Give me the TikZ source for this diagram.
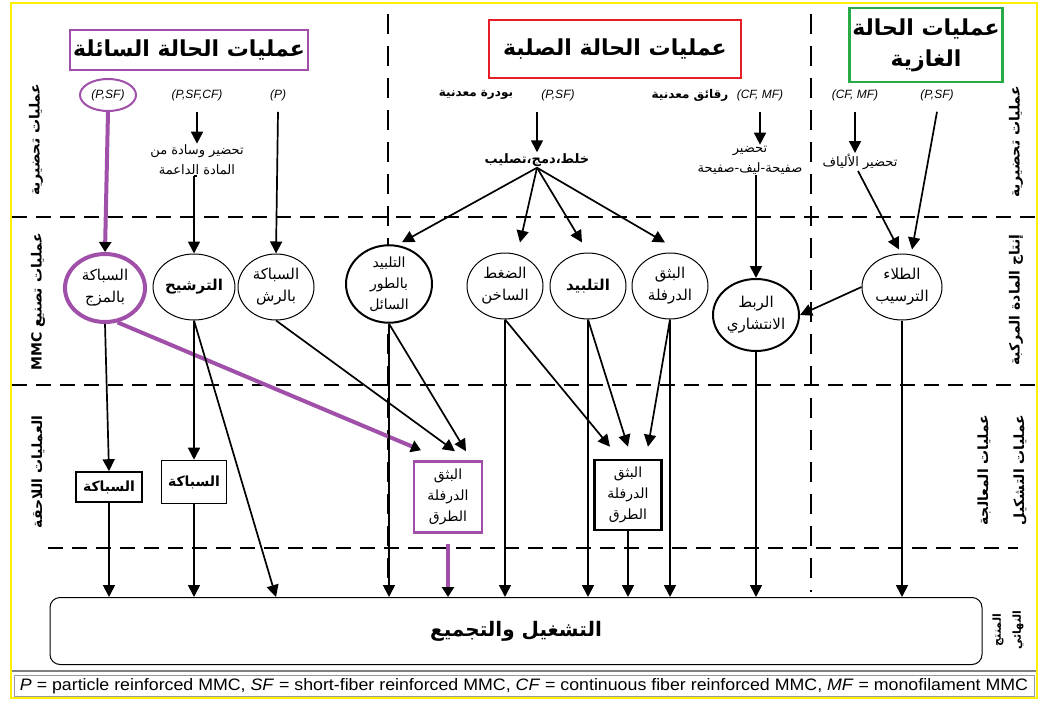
\documentclass[tikz,border=0pt]{standalone}
\usepackage{fontspec}
\usepackage{graphicx}
\setmainfont{Liberation Sans}
\newfontfamily\arabicfont[Script=Arabic]{DejaVu Sans}
\TeXXeTstate=1
\usetikzlibrary{shapes.geometric,arrows.meta}
\newcommand{\ara}[1]{{\arabicfont\beginR #1\endR}}
\definecolor{purpC}{RGB}{160,80,168}
\definecolor{redC}{RGB}{230,30,40}
\definecolor{greenC}{RGB}{40,170,70}
\definecolor{yelC}{RGB}{255,240,0}
\tikzset{
  sepline/.style={line width=1.5pt, dash pattern=on 15pt off 9pt},
  sepvert/.style={line width=1.5pt, dash pattern=on 20pt off 12pt},
  proc/.style={ellipse, draw, fill=white, line width=1pt, minimum width=76pt, minimum height=66pt, inner sep=0pt, align=center, font=\arabicfont\fontsize{15}{22}\selectfont},
  thickproc/.style={proc, line width=2pt},
  postbox/.style={draw, fill=white, line width=1.6pt, align=center, inner sep=0pt, font=\arabicfont\fontsize{14}{21}\selectfont},
  arr/.style={line width=1.7pt, -{Triangle[length=12pt,width=12pt]}},
  parr/.style={line width=4pt, draw=purpC, -{Triangle[length=10pt,width=12pt,black]}},
  inp/.style={font=\itshape\fontsize{12}{14}\selectfont, inner sep=1pt},
  ain/.style={font=\arabicfont\bfseries\fontsize{12}{14}\selectfont, inner sep=1pt},
  prep/.style={align=center, font=\arabicfont\fontsize{13}{20}\selectfont, inner sep=1pt},
  side/.style={rotate=90, align=center, font=\arabicfont\bfseries\fontsize{14}{18}\selectfont, inner sep=0pt},
  title/.style={line width=2.5pt, fill=white, align=center, inner sep=0pt, font=\arabicfont\bfseries\fontsize{22}{31}\selectfont}
}
\begin{document}
\begin{tikzpicture}[x=1pt,y=-1pt]
\useasboundingbox (0,0) rectangle (1039,701);
\fill[white] (0,0) rectangle (1039,701);
% yellow frame
\draw[yelC, line width=2pt] (11,3) rectangle (1037,698);
% legend
\draw[gray, line width=2.5pt] (12,671) -- (1036,671);
\draw[gray!80, line width=1pt] (14,675) rectangle (1034,696);
\node (legend) at (524,686) {\resizebox{1008pt}{12pt}{\textit{P} = particle reinforced MMC, \textit{SF} = short-fiber reinforced MMC, \textit{CF} = continuous fiber reinforced MMC, \textit{MF} = monofilament MMC}};

% separators
\draw[sepline] (12,217) -- (1036,217);
\draw[sepline] (12,385) -- (1036,385);
\draw[sepline] (48,548) -- (1018,548);
\draw[sepvert] (388,14) -- (388,592);
\draw[sepvert] (811,14) -- (811,592);

% titles
\node[title, draw=purpC, minimum width=238pt, minimum height=40pt] (tL) at (189,50) {\ara{عمليات الحالة السائلة}};
\node[title, draw=redC, minimum width=252pt, minimum height=58pt] (tS) at (615,49) {\ara{عمليات الحالة الصلبة}};
\node[title, draw=greenC, minimum width=153pt, minimum height=74pt] (tG) at (926,45) {\ara{عمليات الحالة}\\\ara{الغازية}};

% side labels
\node[side] (sl1) at (36,140) {\ara{عمليات تحضيرية}};
\node[side] (sl2) at (38,302) {\ara{عمليات تصنيع \beginL MMC\endL}};
\node[side] (sl3) at (38,472) {\ara{العمليات اللاحقة}};
\node[side] (sr1) at (1016,142) {\ara{عمليات تحضيرية}};
\node[side] (sr2) at (1016,300) {\ara{إنتاج المادة المركبة}};
\node[side, font=\arabicfont\bfseries\fontsize{14}{36}\selectfont] (sr3) at (1002,470) {\ara{عمليات المعالجة}\\\ara{عمليات التشكيل}};
\node[side, font=\arabicfont\bfseries\fontsize{11}{20}\selectfont] (sr4) at (1008,630) {\ara{المنتج}\\\ara{النهائي}};

% inputs
\node[inp] (i1) at (108,95) {(P,SF)};
\node[ellipse, draw=purpC, line width=2pt, minimum width=56pt, minimum height=32pt, inner sep=0pt] (i1e) at (108,95) {};
\node[inp] (i2) at (197,95) {(P,SF,CF)};
\node[inp] (i3) at (278,95) {(P)};
\node[ain] (i4) at (476,95) {\ara{بودرة معدنية}};
\node[inp] (i5) at (558,95) {(P,SF)};
\node[ain] (i6) at (690,95) {\ara{رقائق معدنية}};
\node[inp] (i7) at (760,95) {(CF, MF)};
\node[inp] (i8) at (855,95) {(CF, MF)};
\node[inp] (i9) at (937,95) {(P,SF)};

% preparation texts
\node[prep] (t2) at (197,160) {\ara{تحضير وسادة من}\\\ara{المادة الداعمة}};
\node[prep, font=\arabicfont\bfseries\fontsize{13}{20}\selectfont] (mx) at (537,160) {\ara{خلط،دمج،تصليب}};
\node[prep] (t7) at (750,160) {\ara{تحضير}\\\ara{صفيحة-ليف-صفيحة}};
\node[prep] (tf) at (860,162) {\ara{تحضير الألياف}};

% process ellipses
\node[proc, line width=4pt, draw=purpC, minimum width=80pt, minimum height=68pt] (c1) at (105,288) {\ara{السباكة}\\\ara{بالمزج}};
\node[proc, font=\arabicfont\bfseries\fontsize{15}{22}\selectfont] (c2) at (194,287) {\ara{الترشيح}};
\node[proc] (c3) at (276,287) {\ara{السباكة}\\\ara{بالرش}};
\node[thickproc, minimum width=86pt, minimum height=77pt, font=\arabicfont\fontsize{14}{21}\selectfont] (lt) at (389,284) {\ara{التلبيد}\\\ara{بالطور}\\\ara{السائل}};
\node[proc] (hp) at (505,286) {\ara{الضغط}\\\ara{الساخن}};
\node[proc, font=\arabicfont\bfseries\fontsize{15}{22}\selectfont] (si) at (588,286) {\ara{التلبيد}};
\node[proc] (ex) at (670,286) {\ara{البثق}\\\ara{الدرفلة}};
\node[thickproc, minimum width=86pt, minimum height=72pt] (db) at (756,315) {\ara{الربط}\\\ara{الانتشاري}};
\node[proc, minimum width=80pt] (co) at (902,287) {\ara{الطلاء}\\\ara{الترسيب}};

% post boxes
\node[postbox, minimum width=66pt, minimum height=30pt, font=\arabicfont\bfseries\fontsize{14}{21}\selectfont] (b1) at (109,487) {\ara{السباكة}};
\node[postbox, minimum width=65pt, minimum height=43pt, font=\arabicfont\bfseries\fontsize{14}{21}\selectfont] (b2) at (194,482) {\ara{السباكة}};
\node[postbox, draw=purpC, line width=2.5pt, minimum width=68pt, minimum height=71pt] (pb) at (448,497) {\ara{البثق}\\\ara{الدرفلة}\\\ara{الطرق}};
\node[postbox, line width=2.5pt, minimum width=67pt, minimum height=70pt] (bb) at (628,495) {\ara{البثق}\\\ara{الدرفلة}\\\ara{الطرق}};

% final box
\node[draw, fill=white, line width=1pt, rounded corners=10pt, minimum width=932pt, minimum height=67pt, font=\arabicfont\bfseries\fontsize{20}{24}\selectfont] (fin) at (516,631) {\ara{التشغيل والتجميع}};

% top arrows
\draw[parr] (i1e.south) -- (c1.north);
\draw[arr] ([yshift=-10pt]i2.south) -- (t2.north);
\draw[line width=1.7pt] (t2.south) -- (c2.north |- t2.south);
\draw[arr] (c2.north |- t2.south) -- (c2.north);
\draw[arr] ([yshift=-10pt]i3.south) -- (c3.north);
\draw[arr] ([yshift=-10pt]i5.south -| mx.north) -- (mx.north);
\draw[arr] (mx.south) -- ([xshift=13pt,yshift=2pt]lt.north);
\draw[arr] (mx.south) -- ([xshift=15pt,yshift=10pt]hp.north);
\draw[arr] (mx.south) -- ([xshift=-6pt,yshift=10pt]si.north);
\draw[arr] (mx.south) -- ([xshift=-5pt,yshift=10pt]ex.north);
\draw[arr] ([yshift=-10pt]i7.south) -- (i7.south |- t7.north);
\draw[arr] (t7.south -| db.north) -- (db.north);
\draw[arr] ([yshift=-10pt]i8.south) -- (i8.south |- tf.north);
\draw[arr] ([xshift=-2pt]tf.south) -- ([xshift=-3pt,yshift=4pt]co.north);
\draw[arr] ([yshift=-10pt]i9.south) -- ([xshift=10pt,yshift=4pt]co.north);
\draw[arr] (co.west) -- (db.east);

% middle arrows
\draw[arr] (c1.south) -- (b1.north);
\draw[parr] (c1.-70) -- ([xshift=-27pt,yshift=10pt]pb.north);
\draw[arr] (c2.south) -- (b2.north);
\draw[arr] (c2.south) -- (fin.north -| c3.south);
\draw[arr] (c3.south) -- ([xshift=7pt,yshift=9pt]pb.north);
\draw[arr] (lt.south) -- ([xshift=18pt,yshift=9pt]pb.north);
\draw[arr] (hp.south) -- ([xshift=-18pt,yshift=12pt]bb.north);
\draw[arr] (si.south) -- ([yshift=12pt]bb.north);
\draw[arr] (ex.south) -- ([xshift=20pt,yshift=12pt]bb.north);

% arrows to final
\draw[arr] (b1.south) -- (fin.north -| b1.south);
\draw[arr] (b2.south) -- (fin.north -| b2.south);
\draw[arr] (lt.south) -- (fin.north -| lt.south);
\draw[parr] ([yshift=-10pt]pb.south) -- (fin.north -| pb.south);
\draw[arr] (hp.south) -- (fin.north -| hp.south);
\draw[arr] (si.south) -- (fin.north -| si.south);
\draw[arr] (bb.south) -- (fin.north -| bb.south);
\draw[arr] (ex.south) -- (fin.north -| ex.south);
\draw[arr] (db.south) -- (fin.north -| db.south);
\draw[arr] (co.south) -- (fin.north -| co.south);
\end{tikzpicture}
\end{document}
